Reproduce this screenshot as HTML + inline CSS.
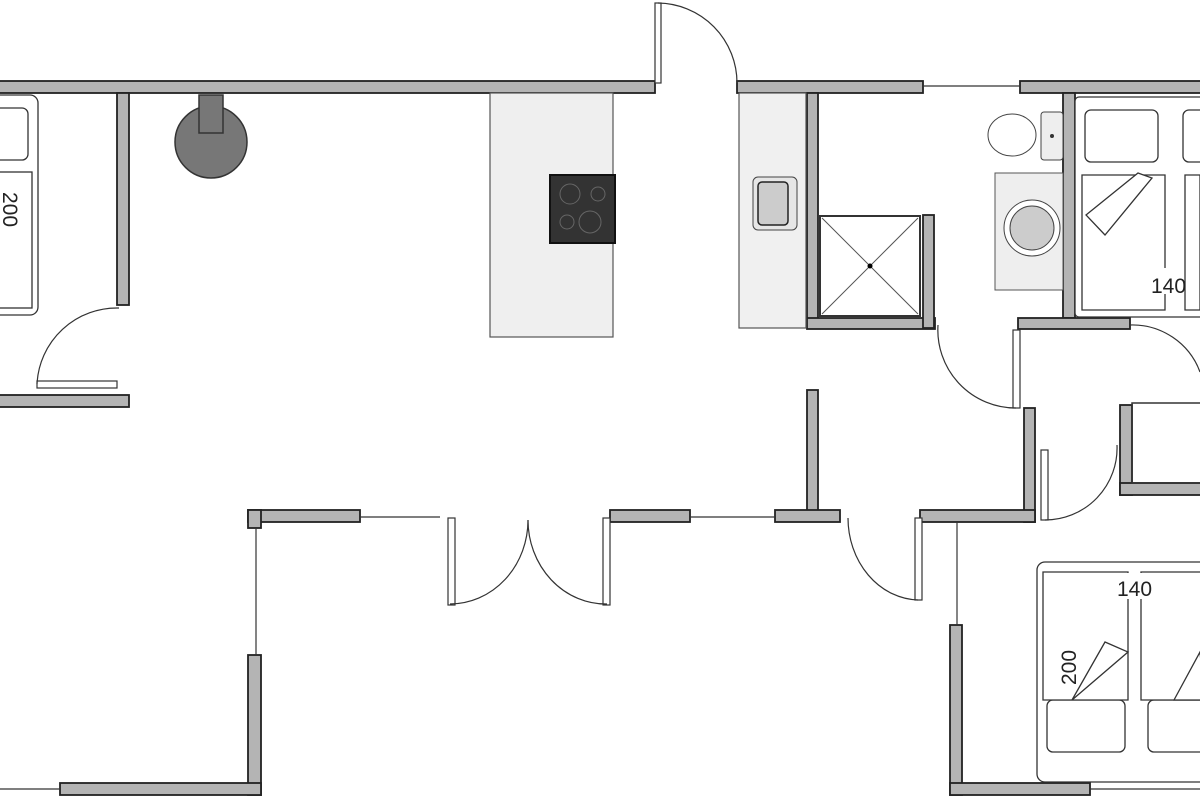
<!DOCTYPE html>
<html><head><meta charset="utf-8"><style>html,body{margin:0;padding:0;background:#fff}svg{display:block}</style></head>
<body>
<svg width="1200" height="800" viewBox="0 0 1200 800" xmlns="http://www.w3.org/2000/svg" font-family="Liberation Sans, sans-serif">
<g fill="#b4b4b4" stroke="#222" stroke-width="1.8">
<rect x="-2" y="81" width="657" height="12"/>
<rect x="737" y="81" width="186" height="12"/>
<rect x="1020" y="81" width="182" height="12"/>
<rect x="117" y="93" width="12" height="212"/>
<rect x="-2" y="395" width="131" height="12"/>
<rect x="807" y="93" width="11" height="235"/>
<rect x="807" y="318" width="128" height="11"/>
<rect x="923" y="215" width="11" height="113"/>
<rect x="1063" y="93" width="12" height="225"/>
<rect x="1018" y="318" width="112" height="11"/>
<rect x="807" y="390" width="11" height="122"/>
<rect x="1024" y="408" width="11" height="114"/>
<rect x="1120" y="405" width="12" height="90"/>
<rect x="1120" y="483" width="82" height="12"/>
<rect x="248" y="510" width="112" height="12"/>
<rect x="610" y="510" width="80" height="12"/>
<rect x="775" y="510" width="65" height="12"/>
<rect x="920" y="510" width="115" height="12"/>
<rect x="248" y="510" width="13" height="18"/>
<rect x="248" y="655" width="13" height="140"/>
<rect x="60" y="783" width="201" height="12"/>
<rect x="950" y="625" width="12" height="170"/>
<rect x="950" y="783" width="140" height="12"/>
</g>
<g stroke="#333" stroke-width="1.2" fill="none">
<line x1="923" y1="86" x2="1020" y2="86"/>
<line x1="360" y1="517" x2="440" y2="517"/>
<line x1="690" y1="517" x2="775" y2="517"/>
<line x1="256" y1="528" x2="256" y2="655"/>
<line x1="957" y1="522" x2="957" y2="625"/>
<line x1="0" y1="789" x2="60" y2="789"/>
<line x1="1090" y1="789" x2="1200" y2="789"/>
<rect x="1132" y="403" width="75" height="80" stroke-width="1.5"/>
<rect x="655" y="3" width="6" height="80" fill="#fff"/>
<path d="M658 3 A80 80 0 0 1 737 83"/>
<rect x="37" y="381" width="80" height="7" fill="#fff"/>
<path d="M37 384 A80 80 0 0 1 119 308"/>
<rect x="1013" y="330" width="7" height="78" fill="#fff"/>
<path d="M938 325 A78 78 0 0 0 1016 408"/>
<rect x="1041" y="450" width="7" height="70" fill="#fff"/>
<path d="M1045 520 A72 72 0 0 0 1117 445"/>
<path d="M1130 325 A72 72 0 0 1 1200 372"/>
<rect x="448" y="518" width="7" height="87" fill="#fff"/>
<rect x="603" y="518" width="7" height="87" fill="#fff"/>
<path d="M450 604 A78 84 0 0 0 528 520"/>
<path d="M528 520 A78 84 0 0 0 607 604"/>
<rect x="915" y="518" width="7" height="82" fill="#fff"/>
<path d="M848 518 A72 82 0 0 0 918 600"/>
</g>
<circle cx="211" cy="142" r="36" fill="#777" stroke="#333" stroke-width="1.5"/>
<rect x="199" y="95" width="24" height="38" fill="#777" stroke="#333" stroke-width="1.5"/>
<rect x="490" y="93" width="123" height="244" fill="#efefef" stroke="#555" stroke-width="1.2"/>
<rect x="550" y="175" width="65" height="68" fill="#333" stroke="#111" stroke-width="2"/>
<g fill="none" stroke="#666"><circle cx="570" cy="194" r="10"/><circle cx="598" cy="194" r="7"/><circle cx="567" cy="222" r="7"/><circle cx="590" cy="222" r="11"/></g>
<rect x="739" y="93" width="67" height="235" fill="#f0f0f0" stroke="#555" stroke-width="1.2"/>
<rect x="753" y="177" width="44" height="53" rx="5" fill="#e6e6e6" stroke="#444"/>
<rect x="758" y="182" width="30" height="43" rx="4" fill="#ccc" stroke="#222" stroke-width="1.5"/>
<rect x="820" y="216" width="100" height="100" fill="#fff" stroke="#333" stroke-width="2"/>
<path d="M822 218 L918 314 M918 218 L822 314" stroke="#555" fill="none"/>
<circle cx="870" cy="266" r="2.5" fill="#000"/>
<rect x="1041" y="112" width="22" height="48" rx="3" fill="#eee" stroke="#444"/>
<ellipse cx="1012" cy="135" rx="24" ry="21" fill="#fff" stroke="#444"/>
<circle cx="1052" cy="136" r="2" fill="#333"/>
<rect x="995" y="173" width="68" height="117" fill="#eee" stroke="#555"/>
<circle cx="1032" cy="228" r="28" fill="#fff" stroke="#444"/>
<circle cx="1032" cy="228" r="22" fill="#ccc" stroke="#444"/>
<g fill="#fff" stroke="#333" stroke-width="1.3">
<rect x="1075" y="97" width="130" height="220" rx="4"/>
<rect x="1085" y="110" width="73" height="52" rx="6"/>
<rect x="1183" y="110" width="30" height="52" rx="6"/>
<path d="M1082 175 L1165 175 L1165 310 L1082 310 Z"/>
<path d="M1086 215 L1138 173 L1152 178 L1105 235 Z"/>
<path d="M1185 175 L1200 175 L1200 310 L1185 310 Z"/>
<rect x="-10" y="95" width="48" height="220" rx="8"/>
<rect x="-10" y="108" width="38" height="52" rx="6"/>
<rect x="-10" y="172" width="42" height="136"/>
<rect x="1037" y="562" width="175" height="220" rx="8"/>
<rect x="1047" y="700" width="78" height="52" rx="6"/>
<rect x="1148" y="700" width="60" height="52" rx="6"/>
<path d="M1043 572 L1128 572 L1128 700 L1043 700 Z"/>
<path d="M1141 572 L1205 572 L1205 700 L1141 700 Z"/>
<path d="M1072 700 L1105 642 L1128 652 Z"/>
<path d="M1174 700 L1200 652 L1205 700 Z"/>
</g>
<rect x="1130" y="268" width="42" height="26" fill="#fff"/>
<text x="1151" y="293" font-size="21" fill="#222">140</text>
<rect x="1116" y="573" width="46" height="26" fill="#fff"/>
<text x="1117" y="596" font-size="21" fill="#222">140</text>
<text transform="translate(1076,685) rotate(-90)" font-size="21" fill="#222">200</text>
<text transform="translate(3,192) rotate(90)" font-size="21" fill="#222">200</text>
</svg>
</body></html>
